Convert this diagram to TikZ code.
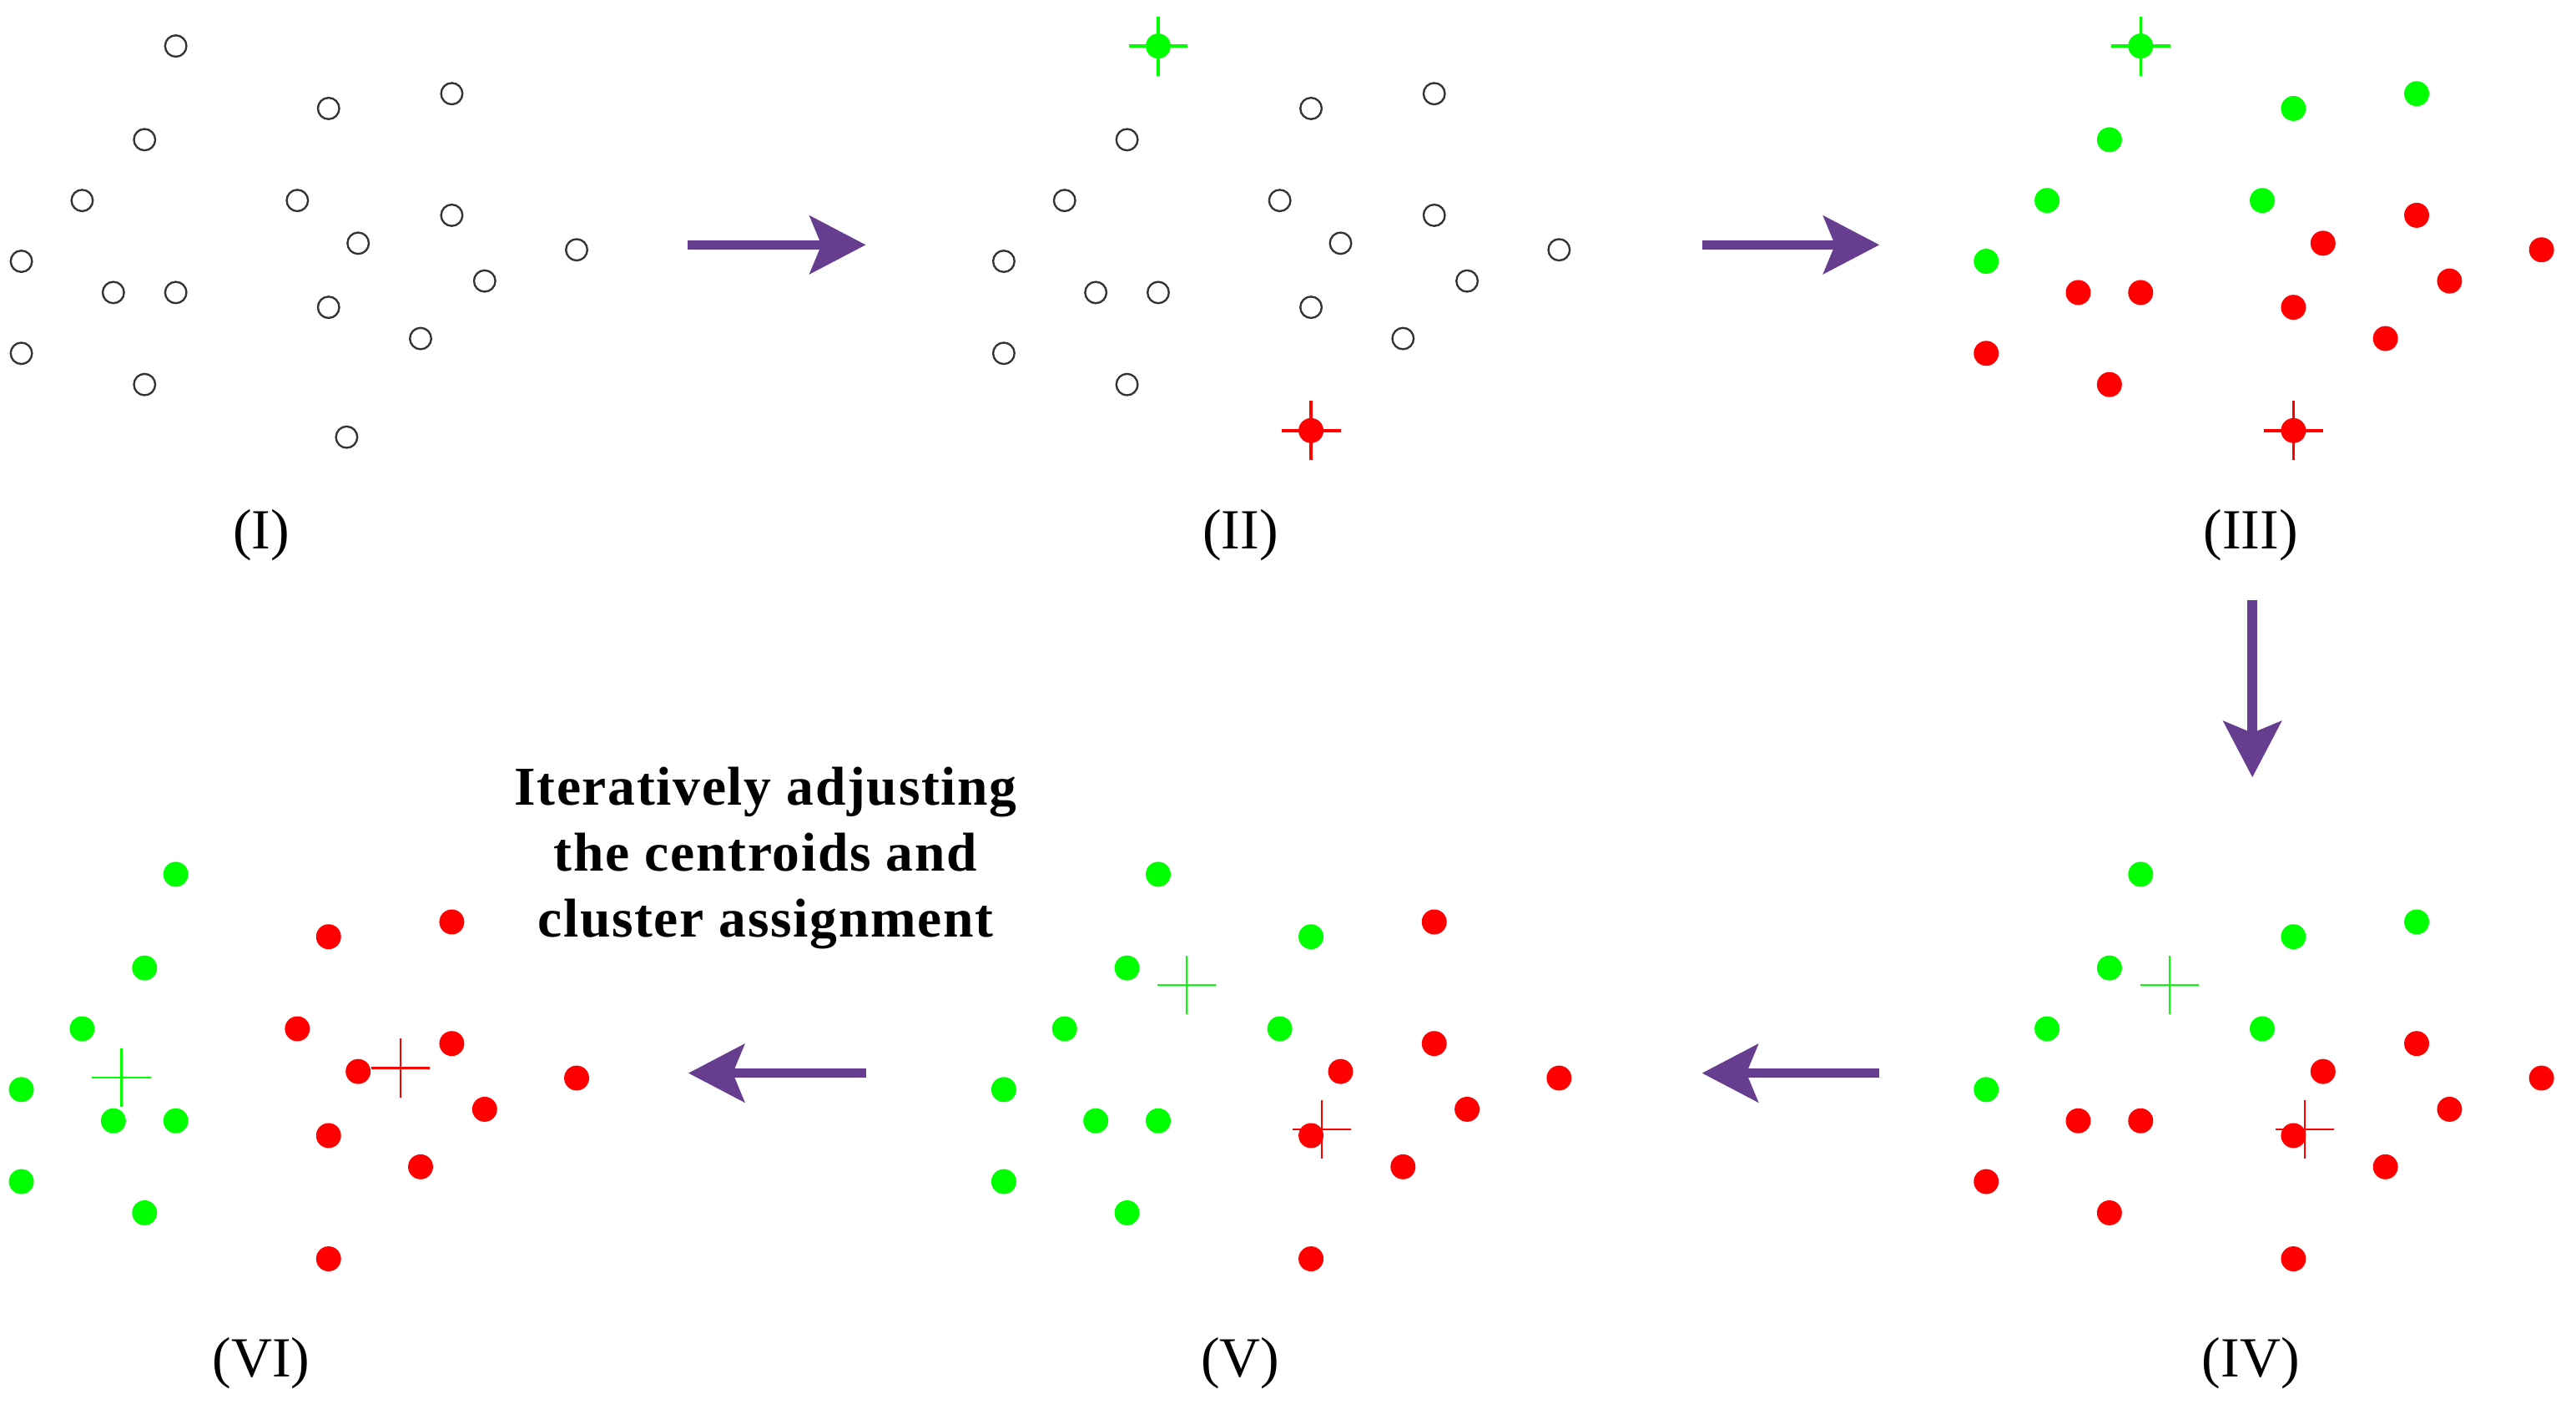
\documentclass[tikz,border=0pt]{standalone}
\usepackage{fontspec}
\setmainfont{Liberation Serif}
\newfontfamily\spacedfont[LetterSpace=2.6]{Liberation Serif}
\usetikzlibrary{arrows.meta}
\definecolor{ptgreen}{RGB}{0,255,0}
\definecolor{ptred}{RGB}{255,0,0}
\definecolor{arrowc}{RGB}{102,61,143}
\definecolor{ringc}{RGB}{51,51,51}
\begin{document}
\begin{tikzpicture}[x=1pt,y=-1pt,
  ptG/.style={circle,fill=ptgreen,inner sep=0pt,minimum size=15.2pt},
  ptR/.style={circle,fill=ptred,inner sep=0pt,minimum size=15.2pt},
  ptO/.style={circle,draw=ringc,line width=1.2pt,fill=white,inner sep=0pt,minimum size=13pt},
  crossthick/.style={line width=1.8pt},
  crossthin/.style={line width=1.1pt},
  lab/.style={font=\fontsize{34.5}{40}\selectfont, anchor=base, inner sep=0pt},
  bigarrow/.style={draw=arrowc, line width=5.9pt, -{Stealth[length=34pt,width=35pt,inset=7pt]}}]
\fill[white] (0,0) rectangle (1568,853.9);
\useasboundingbox (0,0) rectangle (1568,853.9);

\def\base{1/107/28,2/88/85,3/200/66,4/275/57,5/50/122,6/181/122,7/218/148,8/275/131,9/351/152,10/13/159,11/295/171,12/69/178,13/107/178,14/200/187,15/256/206,16/13/215,17/88/234,18/200/262}
\def\colsII{{"G","O","O","O","O","O","O","O","O","O","O","O","O","O","O","O","O","R"}}
\def\colsIII{{"G","G","G","G","G","G","R","R","R","G","R","R","R","R","R","R","R","R"}}
\def\colsV{{"G","G","G","R","G","G","R","R","R","G","R","G","G","R","R","G","G","R"}}
\def\colsVI{{"G","G","R","R","G","R","R","R","R","G","R","G","G","R","R","G","G","R"}}

% panel I
\foreach \i/\x/\y in {1/107/28,2/88/85,3/200/66,4/275/57,5/50/122,6/181/122,7/218/148,8/275/131,9/351/152,10/13/159,11/295/171,12/69/178,13/107/178,14/200/187,15/256/206,16/13/215,17/88/234,18/211/266}
  \node[ptO] (I-\i) at (\x,\y) {};

% panels II - VI
\foreach \p/\ox/\oy/\cols in {II/598/0/\colsII, III/1196/0/\colsIII, IV/1196/504/\colsIII, V/598/504/\colsV, VI/0/504/\colsVI}{
  \foreach \i/\x/\y in \base {
    \pgfmathsetmacro\pc{\cols[\i-1]}
    \node[pt\pc] (\p-\i) at ({\x+\ox},{\y+\oy}) {};
  }
}

% centroids with dots
\foreach \p in {II,III}{
  \draw[ptgreen,crossthick] (\p-1.center) +(-18,0) -- +(18,0) +(0,-18) -- +(0,18);
  \draw[ptred,crossthick] (\p-18.center) +(-18,0) -- +(18,0) +(0,-18) -- +(0,18);
}
% moved centroids
\coordinate (IV-cg) at (1320.6,599.4);
\coordinate (IV-cr) at (1402.8,687.4);
\coordinate (V-cg) at (722.3,599.4);
\coordinate (V-cr) at (804.6,687.3);
\coordinate (VI-cg) at (73.9,655.6);
\coordinate (VI-cr) at (243.7,649.9);
\foreach \p in {IV,V,VI}{
  \draw[ptgreen,crossthin] (\p-cg) +(-17.8,0) -- +(17.8,0) +(0,-17.8) -- +(0,17.8);
  \draw[ptred,crossthin] (\p-cr) +(-17.8,0) -- +(17.8,0) +(0,-17.8) -- +(0,17.8);
}

% labels
\node[lab] (lI) at (159,334) {(I)};
\node[lab] (lII) at (755,334) {(II)};
\node[lab] (lIII) at (1370,334) {(III)};
\node[lab] (lVI) at (159,838) {(VI)};
\node[lab] (lV) at (755,838) {(V)};
\node[lab] (lIV) at (1370,838) {(IV)};

% text
\node[font=\spacedfont\bfseries\fontsize{33.3}{40}\selectfont, align=center, anchor=base, inner sep=0pt] (txt) at (466,570) {Iteratively adjusting\\the centroids and\\cluster assignment};

% arrows
\coordinate (a1s) at (418.5,149);
\coordinate (a1e) at (527,149);
\coordinate (a2s) at (1036,149);
\coordinate (a2e) at (1144,149);
\coordinate (a3s) at (1371,365);
\coordinate (a3e) at (1371,473);
\coordinate (a4s) at (1144,653);
\coordinate (a4e) at (1036,653);
\coordinate (a5s) at (527,653);
\coordinate (a5e) at (419,653);
\draw[bigarrow] (a1s) -- (a1e);
\draw[bigarrow] (a2s) -- (a2e);
\draw[bigarrow] (a3s) -- (a3e);
\draw[bigarrow] (a4s) -- (a4e);
\draw[bigarrow] (a5s) -- (a5e);
\end{tikzpicture}
\end{document}
